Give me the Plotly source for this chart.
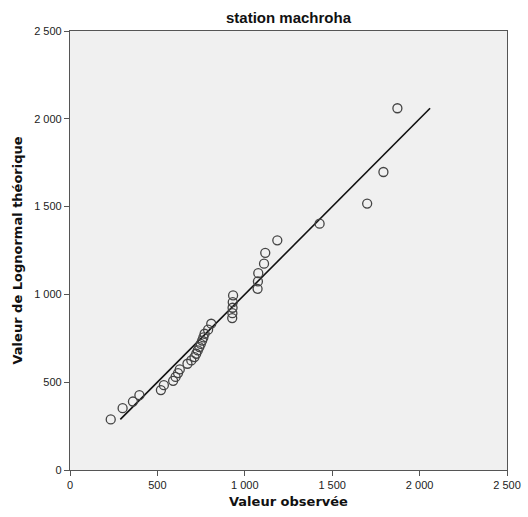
import plotly.graph_objects as go

observed = [233, 301, 360, 397, 520, 537, 590, 604, 618, 628, 672, 694, 712, 722,
            731, 740, 748, 756, 763, 770, 790, 808, 928, 929, 930, 931, 933,
            1073, 1075, 1077, 1110, 1117, 1186, 1428, 1700, 1793, 1873]
theoretical = [288, 352, 390, 426, 455, 483, 508, 530, 552, 573, 605, 624, 643, 662,
               681, 700, 718, 737, 755, 776, 799, 833, 865, 893, 924, 956, 994,
               1032, 1074, 1121, 1175, 1237, 1308, 1403, 1517, 1697, 2060]
tick_vals = [0, 500, 1000, 1500, 2000, 2500]

lo, hi = min(theoretical), max(theoretical)

fig = go.Figure()
fig.add_trace(go.Scatter(x=[lo, hi], y=[lo, hi], mode="lines",
                         line=dict(color="#111111", width=1.6), hoverinfo="skip"))
fig.add_trace(go.Scatter(x=observed, y=theoretical, mode="markers",
                         marker=dict(symbol="circle-open", size=9, color="#444444",
                                     line=dict(width=1.3, color="#444444"))))

axis_common = dict(range=[0, 2500], tickvals=tick_vals, showgrid=False, zeroline=False,
                   showline=True, linecolor="#555555", linewidth=1.2, mirror=True,
                   ticks="outside", ticklen=5, tickcolor="#555555", tickwidth=1,
                   tickformat=",d", automargin=False,
                   tickfont=dict(family="Liberation Sans, Arial", size=11, color="#222222"))

fig.update_layout(
    width=528, height=517,
    margin=dict(l=70, r=21, t=31, b=47),
    paper_bgcolor="white", plot_bgcolor="#F0F0F0",
    showlegend=False, separators=", ",
    xaxis=dict(**axis_common),
    yaxis=dict(**axis_common),
    annotations=[
        dict(text="<b>station machroha</b>", xref="paper", yref="paper", x=0.5, y=1,
             xanchor="center", yanchor="middle", yshift=14, showarrow=False,
             font=dict(family="Liberation Sans, Arial", size=15, color="#111111")),
        dict(text="<b>Valeur observée</b>", xref="paper", yref="paper", x=0.5, y=0,
             xanchor="center", yanchor="middle", yshift=-31, showarrow=False,
             font=dict(family="DejaVu Sans, Liberation Sans", size=13, color="#111111")),
        dict(text="<b>Valeur de Lognormal théorique</b>", xref="paper", yref="paper", x=0, y=0.5,
             xanchor="center", yanchor="middle", xshift=-53, textangle=-90, showarrow=False,
             font=dict(family="DejaVu Sans, Liberation Sans", size=13, color="#111111")),
    ],
)

fig.write_html("out.html")
